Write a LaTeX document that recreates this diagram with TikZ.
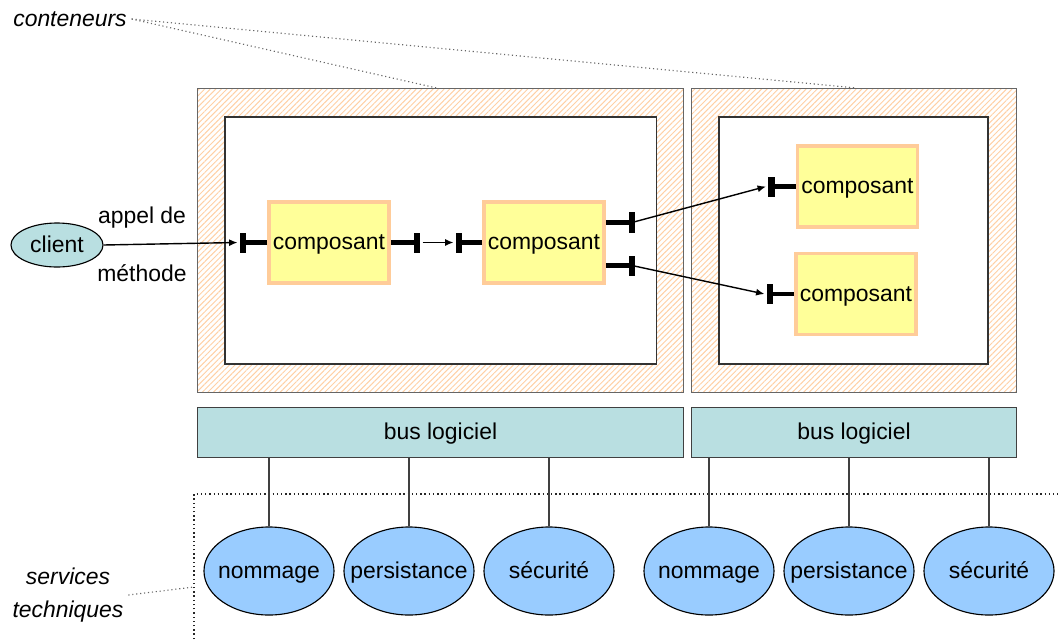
\documentclass[tikz,border=0pt]{standalone}
\usepackage{fontspec}
\setmainfont{Liberation Sans}
\usetikzlibrary{patterns.meta,arrows.meta,shapes.geometric}

\definecolor{hachure}{RGB}{255,208,165}
\definecolor{compfond}{RGB}{255,255,153}
\definecolor{compbord}{RGB}{255,204,153}
\definecolor{busfond}{RGB}{185,223,225}
\definecolor{servfond}{RGB}{153,204,255}

\newcommand{\etiq}[1]{\makebox[0pt]{#1}}

\tikzset{
	texte/.style={text height=13pt,text depth=3pt},
	conteneur/.style={draw=black!60,line width=1pt,pattern={Lines[angle=45,distance=2.8pt,line width=0.7pt]},pattern color=hachure,inner sep=0},
	interieur/.style={draw=black!80,fill=white,line width=0.8pt,inner sep=0},
	composant/.style={texte,draw=compbord,fill=compfond,line width=2.8pt,minimum width=3cm,minimum height=2.025cm,inner sep=0},
	bus/.style={texte,draw=black!75,fill=busfond,line width=1pt,minimum height=1.25cm,inner sep=0},
	service/.style={texte,ellipse,draw=black,fill=servfond,line width=0.8pt,minimum width=3.25cm,minimum height=2.2cm,inner sep=0},
	port/.style={line width=3pt},
	barre/.style={fill=black,inner sep=0,minimum width=0.17cm,minimum height=0.5cm},
	appel/.style={line width=1pt,-{Latex[length=6pt,width=5pt]}},
	lien/.style={draw=black!75,line width=0.8pt},
	renvoi/.style={draw=black!60,dotted,line width=0.8pt},
	cadre/.style={draw=black!85,dotted,line width=1pt}
}

\begin{document}
\begin{tikzpicture}[x=0.025cm,y=-0.025cm,font=\fontsize{16.3}{19.5}\selectfont]
		\useasboundingbox (0,0) rectangle (1058,639);
		
		\node[conteneur,minimum width=12.15cm,minimum height=7.6cm] (k1) at (440.5,240.5) {};
		\node[interieur,minimum width=10.775cm,minimum height=6.175cm] (i1) at (440.5,240.5) {};
		\node[conteneur,minimum width=8.125cm,minimum height=7.6cm] (k2) at (854,240.5) {};
		\node[interieur,minimum width=6.725cm,minimum height=6.175cm] (i2) at (853.5,240.5) {};
		
		\node[font=\fontsize{16.3}{19.5}\selectfont\itshape] (cont) at (70,19) {conteneurs};
		\draw[renvoi] (cont.east) -- ([xshift=-0.1cm]k1.north);
		\draw[renvoi] (cont.east) -- (k2.north);
		
		\node[composant] (c1) at (329,242.5) {composant};
		\node[composant] (c2) at (544,242.5) {composant};
		\node[composant] (c3) at (857.5,186.5) {composant};
		\node[composant] (c4) at (856,294) {composant};
		
		\draw[port] (c1.west) -- ++(-24,0) node[barre] (p1) {};
		\draw[port] (c1.east) -- ++(26,0) node[barre] (p2) {};
		\draw[port] (c2.west) -- ++(-23,0) node[barre] (p3) {};
		\draw[port] ([yshift=0.5cm]c2.east) -- ++(26,0) node[barre] (p4) {};
		\draw[port] ([yshift=-0.575cm]c2.east) -- ++(26,0) node[barre] (p5) {};
		\draw[port] (c3.west) -- ++(-24,0) node[barre] (p6) {};
		\draw[port] (c4.west) -- ++(-24,0) node[barre] (p7) {};
		
		\node[texte,ellipse,draw=black,fill=busfond,line width=0.8pt,minimum width=2.3cm,minimum height=1.1cm,inner sep=0] (client) at (57,245) {\etiq{client}};
		\node (appel) at (142,218) {appel de};
		\node (methode) at (142,273) {méthode};
		
		\draw[appel] (client.east) -- (p1.west);
		\draw[appel] (p2.east) -- (p3.west);
		\draw[appel] (p4.center) -- (p6.west);
		\draw[appel] (p5.center) -- (p7.west);
		
		\node[bus,minimum width=12.15cm] (b1) at (440.5,432.5) {bus logiciel};
		\node[bus,minimum width=8.125cm] (b2) at (854,432.5) {bus logiciel};
		
		\draw[cadre] (194,639) -- (194,494) -- (1058,494);
		\coordinate (bord) at (194,587);
		
		\node[service] (s1) at (269,571) {\etiq{nommage}};
		\node[service] (s2) at (409,571) {\etiq{persistance}};
		\node[service] (s3) at (549,571) {\etiq{sécurité}};
		\node[service] (s4) at (709,571) {\etiq{nommage}};
		\node[service] (s5) at (849,571) {\etiq{persistance}};
		\node[service] (s6) at (989,571) {\etiq{sécurité}};
		
		\draw[lien] (s1.north) -- (s1.north |- b1.south);
		\draw[lien] (s2.north) -- (s2.north |- b1.south);
		\draw[lien] (s3.north) -- (s3.north |- b1.south);
		\draw[lien] (s4.north) -- (s4.north |- b2.south);
		\draw[lien] (s5.north) -- (s5.north |- b2.south);
		\draw[lien] (s6.north) -- (s6.north |- b2.south);
		
		\node[align=center,font=\fontsize{16.3}{23}\selectfont\itshape] (serv) at (68,595) {services\\techniques};
		\draw[renvoi] (serv.east) -- (bord);
	\end{tikzpicture}
\end{document}
